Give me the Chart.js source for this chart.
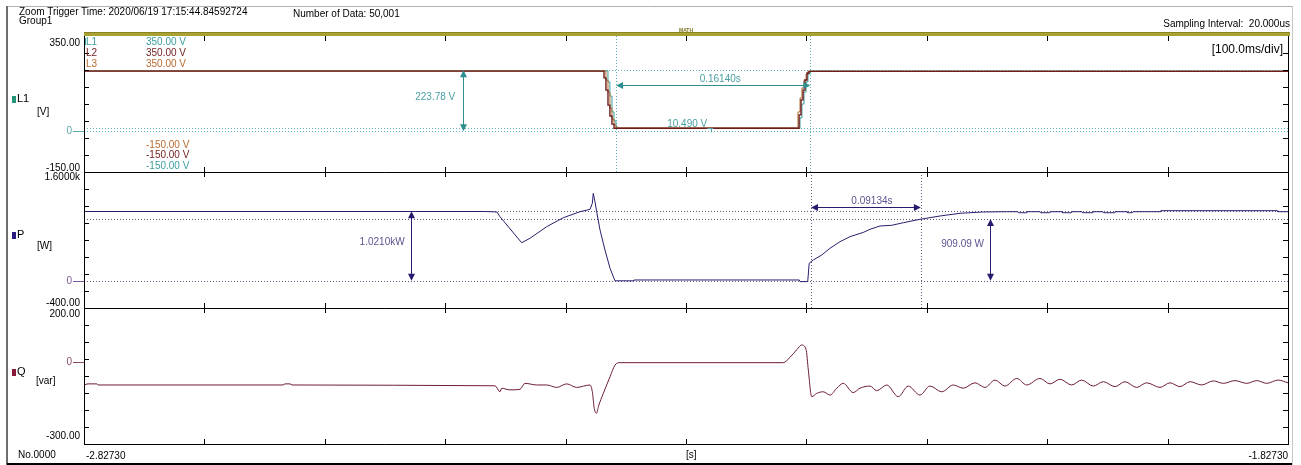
<!DOCTYPE html>
<html>
<head>
<meta charset="utf-8">
<title>Zoom Trigger - Group1</title>
<script src="https://cdn.jsdelivr.net/npm/chart.js@4.4.1/dist/chart.umd.min.js"></script>
<style>
  html, body { margin: 0; padding: 0; background: #fff; }
  #wrap { position: relative; width: 1301px; height: 465px; overflow: hidden;
          font-family: "Liberation Sans", Arial, sans-serif; font-size: 10px; color: #000; }
  #wrap canvas { position: absolute; left: 0; top: 0; }
  .t { position: absolute; white-space: nowrap; line-height: 10px; }
  .ch { font-size: 11px; line-height: 11px; }
  .sq { display: inline-block; width: 4px; height: 7px; margin-right: 1px; vertical-align: -1px; }
</style>
</head>
<body>
<div id="wrap">
  <canvas id="scope" width="1301" height="465"></canvas>

  <div class="t" style="left:19px;top:7px">Zoom Trigger Time: 2020/06/19 17:15:44.84592724</div>
  <div class="t" style="left:19px;top:16px">Group1</div>
  <div class="t" style="left:293px;top:9px">Number of Data: 50,001</div>
  <div class="t" style="right:11px;top:19px">Sampling Interval:&nbsp; 20.000us</div>
  <div class="t" style="right:18px;top:43px;font-size:12px;line-height:12px">[100.0ms/div]</div>

  <div class="t ch" style="left:12px;top:93px"><span class="sq" style="background:#23967a"></span>L1</div>
  <div class="t" style="left:37px;top:107px">[V]</div>
  <div class="t ch" style="left:12px;top:229px"><span class="sq" style="background:#2a1a80"></span>P</div>
  <div class="t" style="left:37px;top:241px">[W]</div>
  <div class="t ch" style="left:12px;top:366px"><span class="sq" style="background:#8a1a3a"></span>Q</div>
  <div class="t" style="left:36px;top:376px">[var]</div>

  <div class="t" style="left:18px;top:450px">No.0000</div>
  <div class="t" style="left:686px;top:450px">[s]</div>
</div>

<script>
// x axis: time in seconds, 10 divisions of 100 ms
const xRange = [-2.8273, -1.8273];
const xDivisions = 10;
const xLabels = ['-2.82730', '-1.82730'];

// panel ranges and their edge labels
const vRange = [-150, 350];
const pRange = [-400, 1600];
const qRange = [-300, 200];
const vAxisLabels = ['350.00', '-150.00'];
const pAxisLabels = ['1.6000k', '-400.00'];
const qAxisLabels = ['200.00', '-300.00'];
const yDivisions = 8;

// channel legend in the voltage panel
const chNames = ['L1', 'L2', 'L3'];
const chTop = ['350.00 V', '350.00 V', '350.00 V'];
const chBottom = ['-150.00 V', '-150.00 V', '-150.00 V'];

// L1 / L2 / L3 voltage [V]
const l1Time = [-2.8273, -2.3938, -2.3921, -2.3905, -2.3888, -2.3871, -2.3855, -2.3846,
                -2.2343, -2.2326, -2.2310, -2.2293, -2.2276, -2.2260, -2.2243, -1.8273];
const l1Volt = [222, 222, 181, 129, 71, 38, 19, 10.5, 10.5, 49, 100, 144, 181, 210, 221, 221];

const l2Time = [-2.8273, -2.3962, -2.3954, -2.3938, -2.3921, -2.3905, -2.3888, -2.3871,
                -2.2351, -2.2334, -2.2318, -2.2301, -2.2285, -2.2268, -2.2251, -1.8273];
const l2Volt = [221, 221, 196, 151, 96, 56, 26, 11, 11, 60, 115, 151, 188, 214, 220, 220];

const l3Time = [-2.8273, -2.3946, -2.3938, -2.3921, -2.3905, -2.3888, -2.3871, -2.3855,
                -2.2359, -2.2343, -2.2326, -2.2310, -2.2293, -2.2276, -2.2260, -1.8273];
const l3Volt = [221.5, 221.5, 188, 144, 85, 45, 23, 12, 12, 71, 122, 159, 188, 210, 220.5, 220.5];

// active power P [W]
const pTime = [-2.8273, -2.4943, -2.4843, -2.4818, -2.4638, -2.4569, -2.4430, -2.4292, -2.4153,
               -2.4070, -2.4051, -2.4043, -2.4029, -2.4015, -2.3987, -2.3946, -2.3904, -2.3863,
               -2.3713, -2.3705, -2.2332, -2.2326, -2.2262, -2.2250, -2.2216, -2.2146, -2.2077,
               -2.1994, -2.1911, -2.1800, -2.1745, -2.1662, -2.1565, -2.1468, -2.1330, -2.1163,
               -2.0997, -2.0804, -2.0610,
               -2.0516, -2.0512, -2.0445, -2.0441, -2.0333, -2.0329, -2.0254, -2.0250,
               -2.0150, -2.0146, -2.0071, -2.0067, -1.9984, -1.9980, -1.9897, -1.9893,
               -1.9810, -1.9806, -1.9714, -1.9710, -1.9610, -1.9606, -1.9564, -1.9560,
               -1.9336, -1.9330, -1.8364, -1.8358, -1.8273];
const pWatt = [1019, 1019, 1012, 943, 560, 625, 796, 928, 1016,
               1051, 1140, 1287, 1163, 1016, 747, 453, 184, 0,
               0, 12, 12, -12, -12, 257, 306, 379, 478,
               575, 649, 712, 757, 806, 816, 854, 904, 953,
               993, 1012, 1016,
               1016, 1001, 1001, 1016, 1016, 1001, 1001, 1016,
               1016, 1001, 1001, 1016, 1016, 1001, 1001, 1016,
               1016, 1001, 1001, 1016, 1016, 1001, 1001, 1016,
               1016, 1031, 1031, 1016, 1016];

// reactive power Q [var]
const qTime = [-2.8273, -2.8240, -2.8165, -2.8157, -2.6620, -2.6604, -2.6562, -2.6545,
               -2.4859, -2.4818, -2.4804, -2.4735, -2.4652, -2.4610, -2.4513, -2.4430, -2.4347,
               -2.4264, -2.4181, -2.4070, -2.4051, -2.4035, -2.4015, -2.4001, -2.3960, -2.3904,
               -2.3863, -2.3821, -2.2465, -2.2409, -2.2354, -2.2312, -2.2276, -2.2257, -2.2229,
               -2.2188, -2.2133, -2.2077, -2.2021, -2.1967, -2.1884, -2.1828, -2.1745, -2.1689,
               -2.1606, -2.1510, -2.1427, -2.1330, -2.1247, -2.1149, -2.1053, -2.0970, -2.0873,
               -2.0790, -2.0707, -2.0624, -2.0526, -2.0443, -2.0333, -2.0250, -2.0167, -2.0070,
               -1.9987, -1.9890, -1.9807, -1.9710, -1.9627, -1.9530, -1.9447, -1.9336, -1.9253,
               -1.9170, -1.9087, -1.8990, -1.8894, -1.8810, -1.8713, -1.8616, -1.8533, -1.8450,
               -1.8354, -1.8273];
const qVar = [-83, -79, -79, -83, -83, -79, -79, -83,
              -86, -108, -95, -101, -99, -77, -83, -83, -92,
              -79, -92, -83, -108, -169, -187, -163, -114, -53,
              -10, -1, -1, 19, 46, 64, 48, -28, -126,
              -114, -108, -120, -95, -77, -111, -95, -87, -104,
              -83, -126, -87, -120, -87, -108, -83, -95, -75,
              -92, -65, -87, -59, -83, -59, -79, -62, -83,
              -65, -87, -71, -89, -71, -92, -75, -92, -75,
              -89, -71, -83, -68, -77, -67, -77, -67, -77,
              -65, -75];

// cursors and measurements
const vCursorLevels = [223.78, 10.49, 0];
const vCursorTimes = [-2.3854, -2.2240];
const vArrowTime = -2.5123;
const vArrowLevel = 170;
const pCursorLevels = [1021.0, 909.09, 0];
const pCursorTimes = [-2.2235, -2.1322];
const pArrowTimes = [-2.5560, -2.0748];
const pArrowLevel = 1081;
const measureLabels = ['223.78 V', '0.16140s', '10.490 V', '1.0210kW', '909.09 W', '0.09134s'];

const C_L1 = '#3a9e9e', C_L2 = '#6e1c1c', C_L3 = '#b86a2e';
const C_P = '#2c1d6e', C_Q = '#6e1b3c';
const C_CUR_V = '#5fb0b4', C_ARR_V = '#2f8f8f', C_TXT_V = '#4a9fa3';
const C_CUR_P = '#5e5a78', C_ARR_P = '#2a1a6e', C_TXT_P = '#5d5290';
const FONT = '10px "Liberation Sans", Arial, sans-serif';

function pts(ts, vs) { return ts.map((t, i) => ({ x: t, y: vs[i] })); }
const crisp = v => Math.round(v) + 0.5;

function line(ctx, x1, y1, x2, y2) {
  ctx.beginPath(); ctx.moveTo(x1, y1); ctx.lineTo(x2, y2); ctx.stroke();
}
function text(ctx, s, x, y, color, align, font) {
  ctx.font = font || FONT;
  ctx.fillStyle = color;
  ctx.textAlign = align || 'left';
  ctx.textBaseline = 'middle';
  ctx.fillText(s, x, y);
}
function head(ctx, x, y, dir) {
  const L = 7, W = 3.5;
  ctx.beginPath();
  ctx.moveTo(x, y);
  if (dir === 'up') { ctx.lineTo(x - W, y + L); ctx.lineTo(x + W, y + L); }
  if (dir === 'down') { ctx.lineTo(x - W, y - L); ctx.lineTo(x + W, y - L); }
  if (dir === 'left') { ctx.lineTo(x + L, y - W); ctx.lineTo(x + L, y + W); }
  if (dir === 'right') { ctx.lineTo(x - L, y - W); ctx.lineTo(x - L, y + W); }
  ctx.closePath(); ctx.fill();
}
function vArrow(ctx, x, y1, y2, color) {
  ctx.strokeStyle = color; ctx.fillStyle = color;
  line(ctx, crisp(x), y1 + 3, crisp(x), y2 - 3);
  head(ctx, crisp(x), y1, 'up'); head(ctx, crisp(x), y2, 'down');
}
function hArrow(ctx, x1, x2, y, color) {
  ctx.strokeStyle = color; ctx.fillStyle = color;
  line(ctx, x1 + 3, crisp(y), x2 - 3, crisp(y));
  head(ctx, x1, crisp(y), 'left'); head(ctx, x2, crisp(y), 'right');
}

const scopeDecor = {
  id: 'scopeDecor',
  beforeDatasetsDraw(chart) {
    const ctx = chart.ctx, a = chart.chartArea, sx = chart.scales.x;
    const sV = chart.scales.yV, sP = chart.scales.yP;
    ctx.save();
    ctx.lineWidth = 1;
    ctx.setLineDash([1, 2]);
    ctx.strokeStyle = C_CUR_V;
    vCursorLevels.forEach(v => line(ctx, a.left, crisp(sV.getPixelForValue(v)), a.right, crisp(sV.getPixelForValue(v))));
    vCursorTimes.forEach(t => line(ctx, crisp(sx.getPixelForValue(t)), sV.top, crisp(sx.getPixelForValue(t)), sV.bottom));
    ctx.strokeStyle = C_CUR_P;
    pCursorLevels.forEach(v => line(ctx, a.left, crisp(sP.getPixelForValue(v)), a.right, crisp(sP.getPixelForValue(v))));
    pCursorTimes.forEach(t => line(ctx, crisp(sx.getPixelForValue(t)), sP.top, crisp(sx.getPixelForValue(t)), sP.bottom));
    ctx.restore();
  },
  afterDatasetsDraw(chart) {
    const ctx = chart.ctx, a = chart.chartArea, sx = chart.scales.x;
    const sV = chart.scales.yV, sP = chart.scales.yP, sQ = chart.scales.yQ;
    const panels = [sV, sP, sQ];
    ctx.save();
    ctx.lineWidth = 1;
    ctx.setLineDash([]);

    // outer frame
    ctx.strokeStyle = '#b0b0b0';
    line(ctx, 7, 6.5, 1292, 6.5);
    ctx.strokeStyle = '#c8c8c8';
    line(ctx, 1292.5, 6, 1292.5, 465);
    ctx.strokeStyle = '#6e6e6e'; ctx.lineWidth = 2;
    line(ctx, 7, 6, 7, 465);
    ctx.strokeStyle = '#000';
    line(ctx, 7, 464, 1292, 464);
    ctx.lineWidth = 1;

    // olive header bar
    ctx.fillStyle = '#a8a236';
    ctx.fillRect(a.left, a.top - 4, 1290 - a.left, 4);
    ctx.fillStyle = '#8c8420';
    ctx.fillRect(a.left, a.top - 4, 1290 - a.left, 1);
    text(ctx, 'MATH', 686, a.top - 5, '#7a7420', 'center', 'bold 5px "Liberation Sans", Arial, sans-serif');

    // panel borders
    ctx.strokeStyle = '#000';
    line(ctx, crisp(a.left), a.top, crisp(a.left), a.bottom);
    line(ctx, crisp(a.right), a.top, crisp(a.right), a.bottom);
    panels.forEach(s => line(ctx, a.left, crisp(s.bottom), a.right + 1, crisp(s.bottom)));

    // division ticks
    const step = (xRange[1] - xRange[0]) / xDivisions;
    for (let k = 1; k < xDivisions; k++) {
      const x = crisp(sx.getPixelForValue(xRange[0] + k * step));
      line(ctx, x, a.top, x, a.top + 5);
      line(ctx, x, sV.bottom - 5, x, sV.bottom + 5);
      line(ctx, x, sP.bottom - 5, x, sP.bottom + 5);
      line(ctx, x, a.bottom - 5, x, a.bottom);
    }
    panels.forEach(s => {
      for (let j = 1; j < yDivisions; j++) {
        const y = crisp(s.top + j * (s.bottom - s.top) / yDivisions);
        line(ctx, a.left, y, a.left + 5, y);
        line(ctx, a.right - 5, y, a.right, y);
      }
    });

    // axis edge labels
    text(ctx, vAxisLabels[0], 80, sV.top + 7, '#000', 'right');
    text(ctx, vAxisLabels[1], 80, sV.bottom - 4, '#000', 'right');
    text(ctx, pAxisLabels[0], 80, sP.top + 5, '#000', 'right');
    text(ctx, pAxisLabels[1], 80, sP.bottom - 5, '#000', 'right');
    text(ctx, qAxisLabels[0], 80, sQ.top + 6, '#000', 'right');
    text(ctx, qAxisLabels[1], 80, sQ.bottom - 8, '#000', 'right');

    // zero markers
    [[sV, '#5aa8a8'], [sP, '#7a5a9a'], [sQ, '#8a4a6a']].forEach(([s, c]) => {
      const y = crisp(s.getPixelForValue(0));
      text(ctx, '0', 72, y, c, 'right');
      ctx.strokeStyle = c;
      line(ctx, 73, y, a.left, y);
    });

    // channel legend
    const chColors = [C_L1, C_L2, C_L3];
    chNames.forEach((n, i) => {
      const y = sV.top + 6.5 + i * 10.7;
      text(ctx, n, a.left + 2, y, chColors[i]);
      text(ctx, chTop[i], 146, y, chColors[i]);
    });
    [2, 1, 0].forEach((ci, i) => {
      text(ctx, chBottom[ci], 146, sV.bottom - 27 + i * 10.5, chColors[ci]);
    });
    ctx.strokeStyle = C_L1;
    line(ctx, a.left + 1.5, sV.top + 2, a.left + 1.5, sV.top + 9);

    // voltage panel measurements
    const vx = sx.getPixelForValue(vArrowTime);
    const vTop = sV.getPixelForValue(vCursorLevels[0]), vZero = sV.getPixelForValue(0);
    vArrow(ctx, vx, vTop, vZero, C_ARR_V);
    text(ctx, measureLabels[0], vx - 8, (vTop + vZero) / 2 - 4, C_TXT_V, 'right');
    const c1 = sx.getPixelForValue(vCursorTimes[0]), c2 = sx.getPixelForValue(vCursorTimes[1]);
    const hy = sV.getPixelForValue(vArrowLevel);
    hArrow(ctx, c1, c2, hy, C_ARR_V);
    text(ctx, measureLabels[1], (c1 + c2) / 2 + 7, hy - 6, C_TXT_V, 'center');
    const lowY = sV.getPixelForValue(vCursorLevels[1]);
    text(ctx, measureLabels[2], (c1 + c2) / 2 - 6, lowY - 4, C_TXT_V, 'right');
    ctx.strokeStyle = C_TXT_V;
    line(ctx, (c1 + c2) / 2 - 6, crisp(lowY), (c1 + c2) / 2, crisp(lowY));
    line(ctx, crisp((c1 + c2) / 2 - 2), lowY, crisp((c1 + c2) / 2 - 2), lowY + 4);

    // power panel measurements
    const pZero = sP.getPixelForValue(0);
    [0, 1].forEach(i => {
      const x = sx.getPixelForValue(pArrowTimes[i]);
      const yT = sP.getPixelForValue(pCursorLevels[i]);
      vArrow(ctx, x, yT, pZero, C_ARR_P);
      text(ctx, measureLabels[3 + i], x - 6, (yT + pZero) / 2 - 4 - 2 * i, C_TXT_P, 'right');
    });
    const d1 = sx.getPixelForValue(pCursorTimes[0]), d2 = sx.getPixelForValue(pCursorTimes[1]);
    const py = sP.getPixelForValue(pArrowLevel);
    hArrow(ctx, d1, d2, py, C_ARR_P);
    text(ctx, measureLabels[5], (d1 + d2) / 2 + 6, py - 6, C_TXT_P, 'center');

    // time labels
    text(ctx, xLabels[0], a.left + 2, 456, '#000', 'left');
    text(ctx, xLabels[1], a.right, 456, '#000', 'right');
    ctx.restore();
  }
};

new Chart(document.getElementById('scope'), {
  type: 'line',
  data: {
    datasets: [
      { label: 'L2', data: pts(l2Time, l2Volt), yAxisID: 'yV', borderColor: C_L2, stepped: true, borderWidth: 1.4 },
      { label: 'L3', data: pts(l3Time, l3Volt), yAxisID: 'yV', borderColor: C_L3, stepped: true },
      { label: 'L1', data: pts(l1Time, l1Volt), yAxisID: 'yV', borderColor: C_L1, stepped: true },
      { label: 'P', data: pts(pTime, pWatt), yAxisID: 'yP', borderColor: C_P },
      { label: 'Q', data: pts(qTime, qVar), yAxisID: 'yQ', borderColor: C_Q, cubicInterpolationMode: 'monotone' }
    ]
  },
  options: {
    responsive: false,
    animation: false,
    events: [],
    layout: { padding: { left: 84, top: 36, right: 13, bottom: 21 } },
    elements: {
      point: { radius: 0 },
      line: { borderWidth: 1, tension: 0, fill: false }
    },
    plugins: { legend: { display: false }, tooltip: { enabled: false } },
    scales: {
      x: { type: 'linear', min: xRange[0], max: xRange[1], display: false },
      // stacked panels are placed bottom-up in declaration order
      yQ: { type: 'linear', min: qRange[0], max: qRange[1], stack: 'scope', stackWeight: 1, position: 'left', display: false },
      yP: { type: 'linear', min: pRange[0], max: pRange[1], stack: 'scope', stackWeight: 1, position: 'left', display: false },
      yV: { type: 'linear', min: vRange[0], max: vRange[1], stack: 'scope', stackWeight: 1, position: 'left', display: false }
    }
  },
  plugins: [scopeDecor]
});
</script>
</body>
</html>
